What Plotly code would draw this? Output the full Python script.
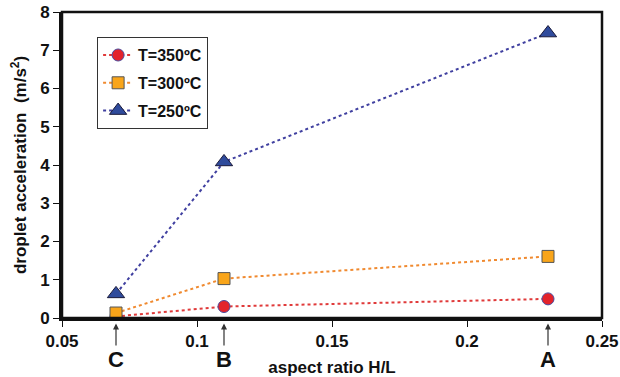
import plotly.graph_objects as go

x_vals = [0.07, 0.11, 0.23]
acc_350 = [0.04, 0.30, 0.50]
acc_300 = [0.13, 1.03, 1.61]
acc_250 = [0.63, 4.08, 7.45]
series_names = ["T=350ºC", "T=300ºC", "T=250ºC"]
point_labels = ["C", "B", "A"]
x_ticks = [0.05, 0.1, 0.15, 0.2, 0.25]
x_tick_text = ["0.05", "0.1", "0.15", "0.2", "0.25"]
y_ticks = [0, 1, 2, 3, 4, 5, 6, 7, 8]

FONT = "Liberation Sans, Arial, sans-serif"

fig = go.Figure()
styles = [
    (acc_350, "circle", "#e3232b", "#4a4a9c", "#e03a3a", 12),
    (acc_300, "square", "#f9a51a", "#555555", "#f08a30", 12),
    (acc_250, "triangle-up", "#2f4b9c", "#1a1a3a", "#4040a0", 15),
]
for i, (ys, sym, fill, outline, lc, sz) in enumerate(styles):
    fig.add_trace(go.Scatter(
        x=x_vals, y=ys, name=series_names[i], mode="lines+markers",
        legendgroup=str(i),
        line=dict(color=lc, width=2, dash="dot"),
        marker=dict(symbol=sym, size=sz, color=fill, line=dict(color=outline, width=1)),
    ))

for xv, lab in zip(x_vals, point_labels):
    fig.add_annotation(
        x=xv, y=-0.018, xref="x", yref="paper", text=lab,
        showarrow=True, ax=0, ay=36, arrowhead=2, arrowsize=1, arrowwidth=1.2,
        arrowcolor="#333333", font=dict(family=FONT, size=22, color="#111111", weight="bold"),
        standoff=0, startstandoff=0,
    )

fig.add_shape(type="rect", xref="paper", yref="paper", x0=0, y0=0, x1=1, y1=1,
              line=dict(color="#111111", width=2.5), layer="above")

tickfont = dict(family=FONT, size=17, color="#111111", weight="bold")
fig.update_layout(
    width=620, height=377,
    margin=dict(l=62, r=18, t=12, b=59),
    plot_bgcolor="white", paper_bgcolor="white",
    font=dict(family=FONT, size=15, color="#111111"),
    showlegend=True,
    legend=dict(x=0.065, y=0.918, xanchor="left", yanchor="top",
                bordercolor="#333333", borderwidth=1, bgcolor="white",
                font=dict(family=FONT, size=16, color="#111111", weight="bold"),
                tracegroupgap=4, itemwidth=30),
    xaxis=dict(range=[0.05, 0.25], tickvals=x_ticks, ticktext=x_tick_text, tickfont=tickfont,
               automargin=False,
               showgrid=False, zeroline=False, showline=True, linecolor="#111111", linewidth=3,
               ticks="outside", ticklen=6, tickwidth=1, tickcolor="#111111",
               title=dict(text="aspect ratio H/L", font=dict(size=17, weight="bold"), standoff=22)),
    yaxis=dict(range=[0, 8], tickvals=y_ticks, ticktext=[str(v) for v in y_ticks], tickfont=tickfont,
               automargin=False,
               showgrid=False, zeroline=False, showline=True, linecolor="#111111", linewidth=3,
               ticks="outside", ticklen=6, tickwidth=1, tickcolor="#111111",
               title=dict(text="droplet acceleration  (m/s<sup>2</sup>)", font=dict(size=17, weight="bold"), standoff=10)),
)

fig.write_html("out.html", config={"displayModeBar": False},
               post_script="document.body.style.margin='0px';document.body.style.padding='0px';")
